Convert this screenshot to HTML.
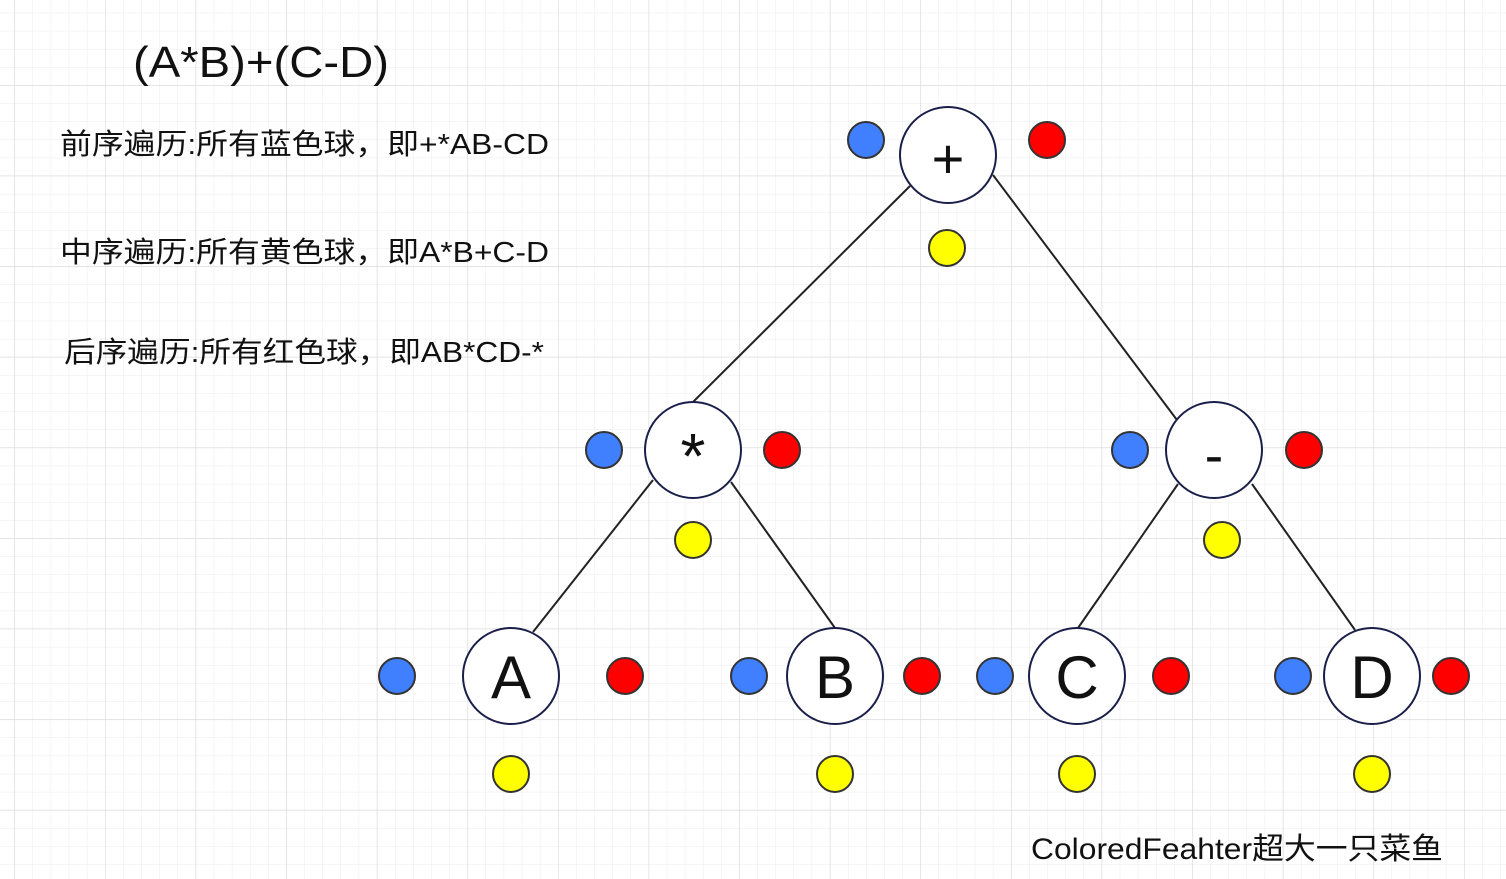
<!DOCTYPE html>
<html><head><meta charset="utf-8"><style>
html,body{margin:0;padding:0;background:#fff;}
svg{display:block}
text{font-family:"Liberation Sans","Noto Sans CJK SC",sans-serif;fill:#111}
</style></head><body>
<svg width="1506" height="879" xmlns="http://www.w3.org/2000/svg">
<defs>
<pattern id="mn" x="14.4" y="12.7" width="18.12" height="18.12" patternUnits="userSpaceOnUse">
<path d="M0 0V18.12M0 0H18.12" stroke="#ebebeb" stroke-width="1" fill="none"/>
</pattern>
<pattern id="mj" x="14.4" y="-5.6" width="90.6" height="90.6" patternUnits="userSpaceOnUse">
<path d="M0 0V90.6M0 0H90.6" stroke="#d9d9d9" stroke-width="1.2" fill="none"/>
</pattern>
</defs>
<rect width="1506" height="879" fill="#fff"/>
<rect width="1506" height="879" fill="url(#mn)"/>
<rect width="1506" height="879" fill="url(#mj)"/>

<text x="133" y="77" font-size="44" textLength="256" lengthAdjust="spacingAndGlyphs">(A*B)+(C-D)</text>
<text x="60" y="154" font-size="29" textLength="489" lengthAdjust="spacingAndGlyphs">前序遍历:所有蓝色球，即+*AB-CD</text>
<text x="60" y="262" font-size="29" textLength="489" lengthAdjust="spacingAndGlyphs">中序遍历:所有黄色球，即A*B+C-D</text>
<text x="64" y="362" font-size="29" textLength="480" lengthAdjust="spacingAndGlyphs">后序遍历:所有红色球，即AB*CD-*</text>
<text x="1031" y="859" font-size="30" textLength="412" lengthAdjust="spacingAndGlyphs">ColoredFeahter超大一只菜鱼</text>

<g stroke="#222" stroke-width="2">
<line x1="910" y1="186" x2="693" y2="402"/>
<line x1="993" y1="175" x2="1177" y2="420"/>
<line x1="653" y1="480" x2="533" y2="632"/>
<line x1="731" y1="482" x2="835" y2="628"/>
<line x1="1178" y1="484" x2="1078" y2="628"/>
<line x1="1252" y1="484" x2="1355" y2="630"/>
</g>

<g fill="#fff" stroke="#1a1f4a" stroke-width="2">
<circle cx="948" cy="155" r="48"/>
<circle cx="693" cy="450" r="48"/>
<circle cx="1214" cy="450" r="48"/>
<circle cx="511" cy="676" r="48"/>
<circle cx="835" cy="676" r="48"/>
<circle cx="1077" cy="676" r="48"/>
<circle cx="1372" cy="676" r="48"/>
</g>
<g font-size="60" text-anchor="middle">
<text x="948" y="178" font-size="56">+</text>
<text x="693" y="478" font-size="64">*</text>
<text x="1214" y="474" font-size="56">-</text>
<text x="511" y="698">A</text>
<text x="835" y="698">B</text>
<text x="1077" y="698">C</text>
<text x="1372" y="698">D</text>
</g>

<g stroke="#333" stroke-width="2">
<g fill="#4080ff">
<circle cx="866" cy="140" r="18"/>
<circle cx="604" cy="450" r="18"/>
<circle cx="1130" cy="450" r="18"/>
<circle cx="397" cy="676" r="18"/>
<circle cx="749" cy="676" r="18"/>
<circle cx="995" cy="676" r="18"/>
<circle cx="1293" cy="676" r="18"/>
</g>
<g fill="#ff0000">
<circle cx="1047" cy="140" r="18"/>
<circle cx="782" cy="450" r="18"/>
<circle cx="1304" cy="450" r="18"/>
<circle cx="625" cy="676" r="18"/>
<circle cx="922" cy="676" r="18"/>
<circle cx="1171" cy="676" r="18"/>
<circle cx="1451" cy="676" r="18"/>
</g>
<g fill="#ffff00">
<circle cx="947" cy="248" r="18"/>
<circle cx="693" cy="540" r="18"/>
<circle cx="1222" cy="540" r="18"/>
<circle cx="511" cy="774" r="18"/>
<circle cx="835" cy="774" r="18"/>
<circle cx="1077" cy="774" r="18"/>
<circle cx="1372" cy="774" r="18"/>
</g>
</g>
</svg>
</body></html>
